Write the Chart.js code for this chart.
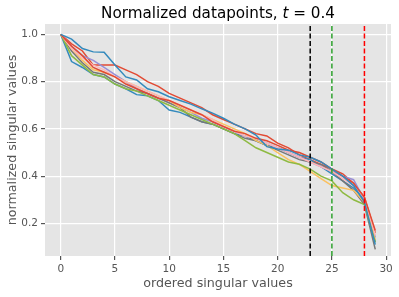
<!DOCTYPE html>
<html>
<head>
<meta charset="utf-8">
<script src="https://cdn.jsdelivr.net/npm/chart.js@4/dist/chart.umd.min.js"></script>
<style>
  body { margin: 0; background: #fff; }
  canvas { display: block; }
</style>
</head>
<body>
<canvas id="chart" width="399" height="297"></canvas>
<script>
// singular value index
const xValues = [0,1,2,3,4,5,6,7,8,9,10,11,12,13,14,15,16,17,18,19,20,21,22,23,24,25,26,27,28,29];

// normalized singular values, one array per datapoint
const redA   = [1.0,0.96,0.93,0.87,0.87,0.87,0.85,0.83,0.80,0.78,0.75,0.73,0.71,0.69,0.66,0.64,0.62,0.60,0.58,0.57,0.54,0.52,0.49,0.47,0.45,0.43,0.41,0.37,0.31,0.16];
const blueA  = [1.0,0.885,0.86,0.83,0.82,0.79,0.77,0.745,0.74,0.72,0.68,0.67,0.65,0.63,0.62,0.60,0.58,0.57,0.55,0.53,0.52,0.50,0.48,0.47,0.44,0.41,0.38,0.35,0.30,0.12];
const purple = [1.0,0.95,0.91,0.89,0.86,0.83,0.80,0.77,0.75,0.73,0.71,0.69,0.67,0.645,0.63,0.61,0.59,0.57,0.56,0.54,0.52,0.50,0.48,0.46,0.44,0.42,0.40,0.385,0.30,0.14];
const gray   = [1.0,0.93,0.88,0.84,0.83,0.80,0.78,0.76,0.75,0.73,0.71,0.69,0.65,0.63,0.62,0.60,0.58,0.56,0.55,0.53,0.51,0.49,0.47,0.46,0.45,0.42,0.38,0.34,0.28,0.09];
const yellow = [1.0,0.94,0.89,0.85,0.84,0.82,0.80,0.78,0.76,0.74,0.72,0.69,0.67,0.66,0.64,0.62,0.60,0.58,0.55,0.53,0.50,0.47,0.45,0.42,0.39,0.36,0.35,0.34,0.29,0.13];
const green  = [1.0,0.91,0.87,0.83,0.82,0.79,0.77,0.76,0.74,0.72,0.70,0.68,0.66,0.64,0.62,0.60,0.58,0.55,0.52,0.50,0.48,0.46,0.45,0.43,0.40,0.38,0.33,0.30,0.28,0.12];
const pink   = [1.0,0.94,0.90,0.87,0.85,0.82,0.80,0.78,0.76,0.74,0.72,0.70,0.68,0.66,0.64,0.61,0.59,0.57,0.56,0.54,0.52,0.50,0.48,0.46,0.44,0.42,0.39,0.36,0.31,0.15];
const redB   = [1.0,0.95,0.91,0.86,0.84,0.82,0.79,0.77,0.75,0.73,0.72,0.70,0.68,0.66,0.63,0.61,0.59,0.58,0.56,0.55,0.53,0.51,0.50,0.48,0.46,0.43,0.40,0.37,0.31,0.17];
const blueB  = [1.0,0.98,0.94,0.926,0.924,0.87,0.82,0.807,0.77,0.757,0.736,0.72,0.705,0.685,0.667,0.645,0.62,0.60,0.574,0.525,0.515,0.51,0.49,0.48,0.46,0.43,0.40,0.36,0.29,0.11];

const series = [redA, blueA, purple, gray, yellow, green, pink, redB, blueB];
const colors = ['#E24A33','#348ABD','#988ED5','#777777','#FBC15E','#8EBA42','#FFB5B8','#E24A33','#348ABD'];

// cut-off markers
const cutX = [23, 25, 28];
const cutColors = ['#000000', '#2ca02c', '#ff0000'];

const yMin = 0.062, yMax = 1.044;

const datasets = [];
cutX.forEach((x, i) => {
    datasets.push({
        data: [{x: x, y: yMin}, {x: x, y: yMax}],
        borderColor: cutColors[i],
        borderWidth: 1.5,
        borderDash: [5, 2.5],
        pointRadius: 0,
        order: 0
    });
});
series.forEach((vals, i) => {
    datasets.push({
        data: vals.map((v, j) => ({x: xValues[j], y: v})),
        borderColor: colors[i],
        borderWidth: 1.5,
        pointRadius: 0,
        tension: 0,
        order: series.length - i
    });
});

const bgPlugin = {
    id: 'bg',
    beforeDraw(chart) {
        const {ctx, chartArea: a} = chart;
        ctx.save();
        ctx.fillStyle = '#E5E5E5';
        ctx.fillRect(a.left, a.top, a.right - a.left, a.bottom - a.top);
        ctx.restore();
    }
};

// title with italic t, like mathtext
const titlePlugin = {
    id: 'mtitle',
    afterDraw(chart) {
        const {ctx, chartArea: a} = chart;
        const parts = [
            ['Normalized datapoints, ', '15.2px "DejaVu Sans"'],
            ['t', 'italic 15.2px "DejaVu Sans"'],
            [' = 0.4', '15.2px "DejaVu Sans"']
        ];
        ctx.save();
        ctx.fillStyle = '#000';
        ctx.textBaseline = 'alphabetic';
        let w = 0;
        parts.forEach(p => { ctx.font = p[1]; w += ctx.measureText(p[0]).width; });
        let x = (a.left + a.right) / 2 - w / 2;
        parts.forEach(p => {
            ctx.font = p[1];
            ctx.fillText(p[0], x, 18);
            x += ctx.measureText(p[0]).width;
        });
        ctx.restore();
    }
};

new Chart(document.getElementById('chart'), {
    type: 'line',
    data: { datasets: datasets },
    options: {
        responsive: false,
        animation: false,
        layout: { padding: { top: 24, right: 8, left: 0, bottom: 0 } },
        plugins: { legend: { display: false }, tooltip: { enabled: false } },
        scales: {
            x: {
                type: 'linear',
                min: -1.45,
                max: 30.45,
                afterFit: s => { s.height = 41; },
                border: { display: false },
                grid: { color: '#ffffff', lineWidth: 1.2, tickColor: '#555555', tickLength: 4 },
                ticks: {
                    stepSize: 5,
                    includeBounds: false,
                    color: '#555555',
                    padding: 3,
                    maxRotation: 0,
                    font: { family: 'DejaVu Sans', size: 10.5 },
                    callback: v => String(v)
                },
                title: {
                    display: true,
                    text: 'ordered singular values',
                    color: '#555555',
                    font: { family: 'DejaVu Sans', size: 12.7 },
                    padding: { top: 0, bottom: 6 }
                }
            },
            y: {
                min: yMin,
                max: yMax,
                afterFit: s => { s.width = 45; },
                border: { display: false },
                grid: { color: '#ffffff', lineWidth: 1.2, tickColor: '#555555', tickLength: 4 },
                ticks: {
                    stepSize: 0.2,
                    includeBounds: false,
                    color: '#555555',
                    padding: 3,
                    font: { family: 'DejaVu Sans', size: 10.5 },
                    callback: v => v.toFixed(1)
                },
                title: {
                    display: true,
                    text: 'normalized singular values',
                    color: '#555555',
                    font: { family: 'DejaVu Sans', size: 12.7 },
                    padding: { top: 5, bottom: 0 }
                }
            }
        }
    },
    plugins: [bgPlugin, titlePlugin]
});
</script>
</body>
</html>
